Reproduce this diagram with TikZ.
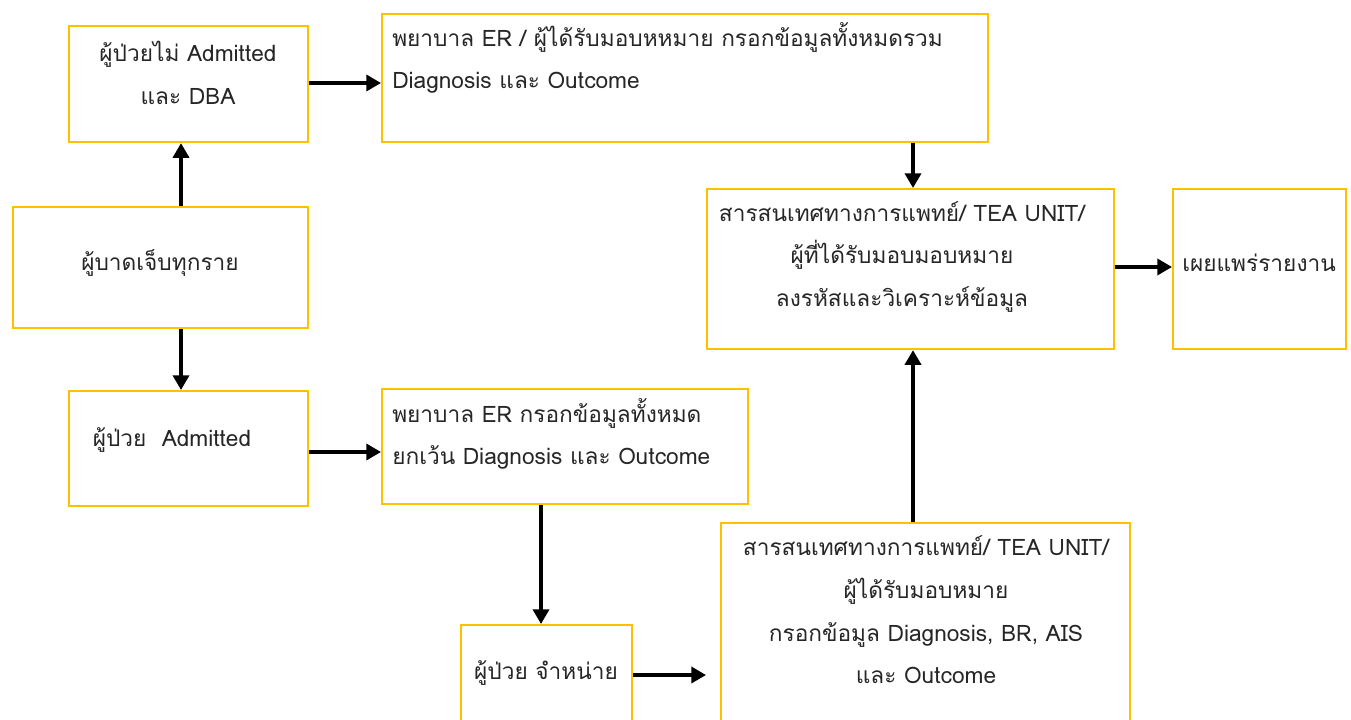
\documentclass[tikz,border=0pt]{standalone}
\usepackage{fontspec}
\setmainfont[Script=Thai]{Loma}
\usetikzlibrary{arrows.meta}
\definecolor{boxgold}{HTML}{FFC000}
\begin{document}
\begin{tikzpicture}[x=0.75pt,y=-0.75pt,
  box/.style={draw=boxgold,line width=1.6pt,inner sep=0pt},
  txt/.style={inner sep=0pt,font=\fontsize{17}{32}\selectfont,text=black!85},
  conn/.style={line width=2.6pt,-{Triangle[length=11pt,width=12pt]}}]
\useasboundingbox (0,0) rectangle (1351,720);
% boxes
\node[box,minimum width=239*0.75pt,minimum height=116*0.75pt,anchor=north west] (A) at (68,25) {};
\node[box,minimum width=606*0.75pt,minimum height=128*0.75pt,anchor=north west] (B) at (381,13) {};
\node[box,minimum width=295*0.75pt,minimum height=121*0.75pt,anchor=north west] (C) at (12,206) {};
\node[box,minimum width=239*0.75pt,minimum height=115*0.75pt,anchor=north west] (D) at (68,390) {};
\node[box,minimum width=366*0.75pt,minimum height=115*0.75pt,anchor=north west] (E) at (381,388) {};
\node[box,minimum width=407*0.75pt,minimum height=160*0.75pt,anchor=north west] (F) at (706,188) {};
\node[box,minimum width=173*0.75pt,minimum height=160*0.75pt,anchor=north west] (G) at (1172,188) {};
\node[box,minimum width=171*0.75pt,minimum height=110*0.75pt,anchor=north west] (H) at (460,624) {};
\node[box,minimum width=409*0.75pt,minimum height=210*0.75pt,anchor=north west] (I) at (720,522) {};
% texts
\node[txt,align=center] (tA) at (188,73) {ผู้ป่วยไม่ Admitted\\และ DBA};
\node[txt,align=left,anchor=west] (tB) at (392,58) {พยาบาล ER / ผู้ได้รับมอบหหมาย กรอกข้อมูลทั้งหมดรวม\\Diagnosis และ Outcome};
\node[txt] (tC) at (160,263) {ผู้บาดเจ็บทุกราย};
\node[txt] (tD) at (172,440) {ผู้ป่วย\ \ Admitted};
\node[txt,align=left,anchor=west] (tE) at (392,434) {พยาบาล ER กรอกข้อมูลทั้งหมด\\ยกเว้น Diagnosis และ Outcome};
\node[txt,align=center] (tF) at (902,257) {สารสนเทศทางการแพทย์/ TEA UNIT/\\ผู้ที่ได้รับมอบมอบหมาย\\ลงรหัสและวิเคราะห์ข้อมูล};
\node[txt] (tG) at (1259,263) {เผยแพร่รายงาน};
\node[txt] (tH) at (546,673) {ผู้ป่วย จำหน่าย};
\node[txt,align=center] (tI) at (926,610) {สารสนเทศทางการแพทย์/ TEA UNIT/\\ผู้ได้รับมอบหมาย\\กรอกข้อมูล Diagnosis, BR, AIS\\และ Outcome};
% connectors
\draw[conn] (C.north -| 181,0) -- (A.south -| 181,0);
\draw[conn] (C.south -| 181,0) -- (D.north -| 181,0);
\draw[conn] (A.east |- 0,83) -- (B.west |- 0,83);
\draw[conn] (B.south -| 913,0) -- (F.north -| 913,0);
\draw[conn] (D.east |- 0,452) -- (E.west |- 0,452);
\draw[conn] (E.south -| 541,0) -- (H.north -| 541,0);
\draw[conn,shorten >=10.5pt] (H.east |- 0,675) -- (I.west |- 0,675);
\draw[conn] (I.north -| 913,0) -- (F.south -| 913,0);
\draw[conn] (F.east |- 0,267) -- (G.west |- 0,267);
\end{tikzpicture}
\end{document}
